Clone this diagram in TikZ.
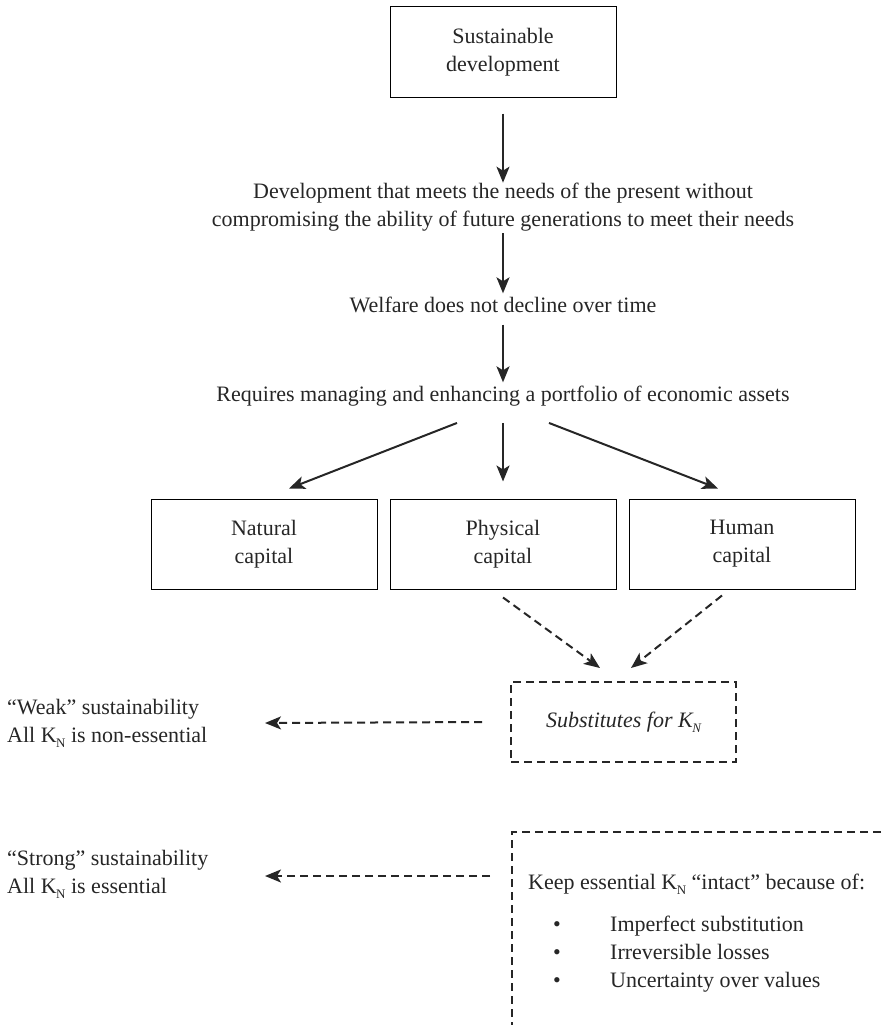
\documentclass[tikz,border=0pt]{standalone}
\usepackage{fontspec}
\setmainfont{Liberation Serif}
\usetikzlibrary{arrows.meta}
\newcommand\subN{\kern-0.5pt\raisebox{-5pt}{\fontsize{13}{13}\selectfont N}}
\begin{document}
\begin{tikzpicture}[x=1pt,y=-1pt,
  every node/.style={font=\fontsize{22}{28}\selectfont, text=black!85},
  box/.style={draw, line width=1pt, minimum width=226pt, minimum height=90pt, align=center, inner sep=0pt},
  dline/.style={line width=2pt, dash pattern=on 8pt off 5pt, draw=black!85},
  dbox/.style={dline, draw, minimum width=225pt, minimum height=80pt, inner sep=0pt},
  txt/.style={align=center, inner sep=0pt},
  arr/.style={line width=2pt, draw=black!85, -{Stealth[length=16pt,width=13pt,inset=4pt]}},
  darr/.style={arr, dash pattern=on 8pt off 5pt}
]
\useasboundingbox (0,0) rectangle (881,1025);

\node[box] (sd) at (503,52) {Sustainable\\development};
\node[txt] (def) at (503,207) {Development that meets the needs of the present without\\compromising the ability of future generations to meet their needs};
\node[txt, anchor=base] (wel) at (503,312) {Welfare does not decline over time};
\node[txt, anchor=base] (req) at (503,401) {Requires managing and enhancing a portfolio of economic assets};

\node[box] (nat) at (264,544) {Natural\\capital};
\node[box] (phy) at (503,544) {Physical\\capital};
\node[box] (hum) at (742,544) {Human\\capital};

\node[dbox] (sub) at (623.5,722) {\itshape Substitutes for K\subN};

\node[txt, align=left, anchor=west] (weak) at (7,723) {“Weak” sustainability\\All K\subN{} is non-essential};
\node[txt, align=left, anchor=west] (strong) at (7,874) {“Strong” sustainability\\All K\subN{} is essential};

\node[txt, anchor=base west] (keep) at (528,889) {Keep essential K\subN{} “intact” because of:};
\node[txt, anchor=base west] (list) at (553,931) {\begin{tabular}[t]{@{}p{57pt}@{}l@{}}\textbullet & Imperfect substitution\\ \textbullet & Irreversible losses\\ \textbullet & Uncertainty over values\end{tabular}};

% solid arrows
\draw[arr, shorten <=16pt] (sd.south) -- (def.north);
\draw[arr, shorten <=2pt, shorten >=3pt] (def.south) -- (wel.north);
\draw[arr, shorten <=12pt, shorten >=3pt] (wel.south) -- (req.north);
\draw[arr, shorten <=17pt, shorten >=17pt] (req.south) -- (phy.north);
\draw[arr] ([xshift=-46pt,yshift=-17pt]req.south) -- ([xshift=25pt,yshift=10pt]nat.north);
\draw[arr] ([xshift=46pt,yshift=-17pt]req.south) -- ([xshift=-24pt,yshift=10pt]hum.north);

% dashed arrows
\draw[darr] ([yshift=-8pt]phy.south) -- ([xshift=-23.5pt,yshift=13pt]sub.north);
\draw[darr] ([xshift=-20pt,yshift=-6pt]hum.south) -- ([xshift=7.5pt,yshift=13pt]sub.north);

\coordinate (wtip) at (265,723);
\draw[darr] ([xshift=-28pt]sub.west) -- (wtip);

\coordinate (kbR) at (881,832);
\coordinate (kbC) at (512,832);
\coordinate (kbB) at (512,1025);
\draw[dline] (kbR) -- (kbC) -- (kbB);

\coordinate (sstart) at (490,876);
\coordinate (stip) at (265,876);
\draw[darr] (sstart) -- (stip);
\end{tikzpicture}
\end{document}
